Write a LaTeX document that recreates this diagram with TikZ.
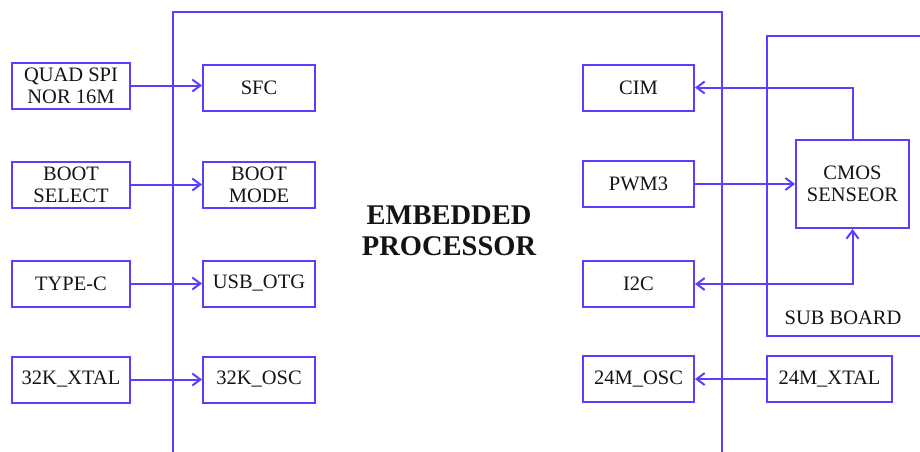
\documentclass[tikz,border=0pt]{standalone}
\usepackage{fontspec}
\setmainfont{Liberation Serif}
\usetikzlibrary{arrows.meta}
\definecolor{wire}{RGB}{88,62,255}
\tikzset{
  x=1pt, y=-1pt,
  tip/.tip={Straight Barb[length=8pt,width=12pt,line width=2pt]},
  box/.style={draw=wire, line width=2pt, align=center, inner sep=0pt,
    font=\fontsize{20.5}{22}\selectfont, text=black!92},
  lbox/.style={box, minimum width=118pt, minimum height=46pt},
  ibox/.style={box, minimum width=112pt, minimum height=46pt},
  link/.style={draw=wire, line width=2pt, -tip},
  frame/.style={draw=wire, line width=2pt},
}
\begin{document}
\begin{tikzpicture}
\useasboundingbox (0,0) rectangle (920,451);
\clip (0,0) rectangle (920,451);

% processor outline (open at the bottom)
\draw[frame] (173,460) -- (173,12) -- (722,12) -- (722,460);
\node[font=\fontsize{28.5}{31}\selectfont\bfseries, align=center, text=black!92] (cpu) at (449,231) {EMBEDDED\\PROCESSOR};

% sub board outline (runs off to the right)
\draw[frame] (935,36) -- (767,36) -- (767,336) -- (935,336);
\node[font=\fontsize{20.5}{22}\selectfont, text=black!92] (subl) at (843,318) {SUB BOARD};

% external parts, left
\node[lbox] (spi)  at (71,85.5)  {QUAD SPI\\NOR 16M};
\node[lbox] (bsel) at (71,184.5) {BOOT\\SELECT};
\node[lbox] (typc) at (71,283.5) {TYPE-C};
\node[lbox] (x32)  at (71,379.5) {32K\_XTAL};

% processor blocks, left column
\node[ibox] (sfc)  at (259,88)  {SFC};
\node[ibox] (bmod) at (259,185) {BOOT\\MODE};
\node[ibox] (usb)  at (259,283.5) {USB\_OTG};
\node[ibox] (o32)  at (259,379.5) {32K\_OSC};

% processor blocks, right column
\node[ibox, minimum width=111pt] (cim)  at (638.5,87.5)  {CIM};
\node[ibox, minimum width=111pt] (pwm)  at (638.5,184)   {PWM3};
\node[ibox, minimum width=111pt] (i2c)  at (638.5,284)   {I2C};
\node[ibox, minimum width=111pt] (o24)  at (638.5,379)   {24M\_OSC};

% external parts, right
\node[box, minimum width=125pt, minimum height=46pt] (x24) at (829.5,379) {24M\_XTAL};
\node[box, minimum width=113pt, minimum height=88pt] (cmos) at (852.5,184) {CMOS\\SENSEOR};

% connections
\draw[link] (spi.east)  -- (spi.east -| sfc.west);
\draw[link] (bsel.east) -- (bsel.east -| bmod.west);
\draw[link] (typc.east) -- (usb.west);
\draw[link] (x32.east)  -- (o32.west);
\draw[link] (x24.west)  -- (o24.east);
\draw[link] (pwm.east)  -- (pwm.east -| cmos.west);
\draw[link] (cmos.north) -- (cmos.north |- cim.east) -- (cim.east);
\draw[link, tip-tip] (i2c.east) -- (i2c.east -| cmos.south) -- (cmos.south);
\end{tikzpicture}
\end{document}
